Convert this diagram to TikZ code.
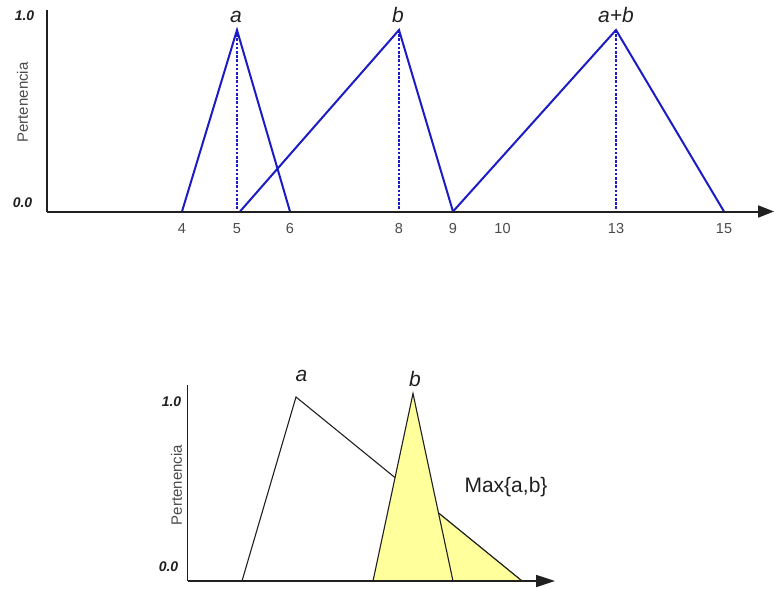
\documentclass[tikz,border=0pt]{standalone}
\usepackage{fontspec}
\setmainfont{Liberation Sans}
\usetikzlibrary{arrows.meta}
\definecolor{fuzC}{HTML}{1C1CC4}
\definecolor{maxC}{HTML}{FFFF9C}
\definecolor{darkC}{HTML}{202020}
\definecolor{grayC}{HTML}{4A4A4A}

\begin{document}
\begin{tikzpicture}[
  x=1pt, y=-1pt,
  every node/.style={inner sep=0pt, outer sep=0pt, text=darkC},
  axisline/.style={-{Triangle[length=16pt,width=12pt]}, darkC, line width=2pt},
  axisthin/.style={-{Triangle[length=19pt,width=12pt]}, darkC, line width=1.7pt},
  memb/.style={fuzC, line width=2pt, line join=miter},
  guide/.style={fuzC, line width=1.8pt, dash pattern=on 2.5pt off 1.7pt},
  thinline/.style={darkC, line width=1.1pt},
  maxfill/.style={fill=maxC, draw=darkC, line width=1.1pt},
  ticklbl/.style={font=\fontsize{14.5}{16}\selectfont, text=grayC, anchor=base},
  vallbl/.style={font=\fontsize{14}{16}\selectfont\bfseries\itshape, anchor=base},
  setlbl/.style={font=\fontsize{21}{24}\selectfont\itshape, anchor=base},
  ylbl/.style={font=\fontsize{15}{17}\selectfont, text=grayC, rotate=90},
]
\useasboundingbox (0,0) rectangle (774,589);

% ── Top chart: a, b and a+b ──
\coordinate (o1) at (46.5,211.5);
\coordinate (ytop1) at (46.5,10);
\coordinate (xend1) at (774,211.5);

\coordinate (a0) at (182,211.5);
\coordinate (a1) at (237,30);
\coordinate (a2) at (290,211.5);
\coordinate (b0) at (240,211.5);
\coordinate (b1) at (399,30);
\coordinate (b2) at (453,211.5);
\coordinate (s0) at (453,211.5);
\coordinate (s1) at (616,30);
\coordinate (s2) at (724,211.5);

\draw[guide] (a1) -- (a1 |- o1);
\draw[guide] (b1) -- (b1 |- o1);
\draw[guide] (s1) -- (s1 |- o1);
\draw[memb] (a0) -- (a1) -- (a2);
\draw[memb] (b0) -- (b1) -- (b2);
\draw[memb] (s0) -- (s1) -- (s2);

\draw[darkC, line width=2pt] (ytop1) -- (o1);
\draw[axisline] (o1) -- (xend1);

\node[setlbl] (la) at (236,23) {a};
\node[setlbl] (lb) at (398,23) {b};
\node[setlbl] (ls) at (616,23) {a+b};

\node[vallbl] (one1) at (24.5,20) {1.0};
\node[vallbl] (zero1) at (22.5,207) {0.0};
\node[ylbl] (py1) at (22.5,102.5) {Pertenencia};

\node[ticklbl] (t4) at (182,233) {4};
\node[ticklbl] (t5) at (237,233) {5};
\node[ticklbl] (t6) at (290,233) {6};
\node[ticklbl] (t8) at (399,233) {8};
\node[ticklbl] (t9) at (453,233) {9};
\node[ticklbl] (t10) at (502.5,233) {10};
\node[ticklbl] (t13) at (616,233) {13};
\node[ticklbl] (t15) at (724,233) {15};

% ── Bottom chart: Max{a,b} ──
\coordinate (o2) at (187.5,581);
\coordinate (ytop2) at (187.5,385);
\coordinate (xend2) at (555,581);

\coordinate (pa0) at (242,581);
\coordinate (pa1) at (296,397);
\coordinate (pa2) at (522,581);
\coordinate (pb0) at (373,581);
\coordinate (pb1) at (413,393.5);
\coordinate (pb2) at (453,581);
\coordinate (px) at (438.5,513);

\draw[thinline, line join=miter] (pa0) -- (pa1) -- (pa2);
\filldraw[maxfill, line join=miter] (pb0) -- (pb1) -- (px) -- (pa2) -- cycle;
\draw[thinline] (px) -- (pb2);

\draw[darkC, line width=1.7pt] (ytop2) -- (o2);
\draw[axisthin] (o2) -- (xend2);

\node[setlbl] (la2) at (301.5,381) {a};
\node[setlbl] (lb2) at (415,386) {b};
\node[font=\fontsize{21}{24}\selectfont, anchor=base] (lmax) at (506,492) {Max\{a,b\}};

\node[vallbl] (one2) at (171.5,406) {1.0};
\node[vallbl] (zero2) at (168.5,571.5) {0.0};
\node[ylbl] (py2) at (176.5,485) {Pertenencia};

\end{tikzpicture}
\end{document}
